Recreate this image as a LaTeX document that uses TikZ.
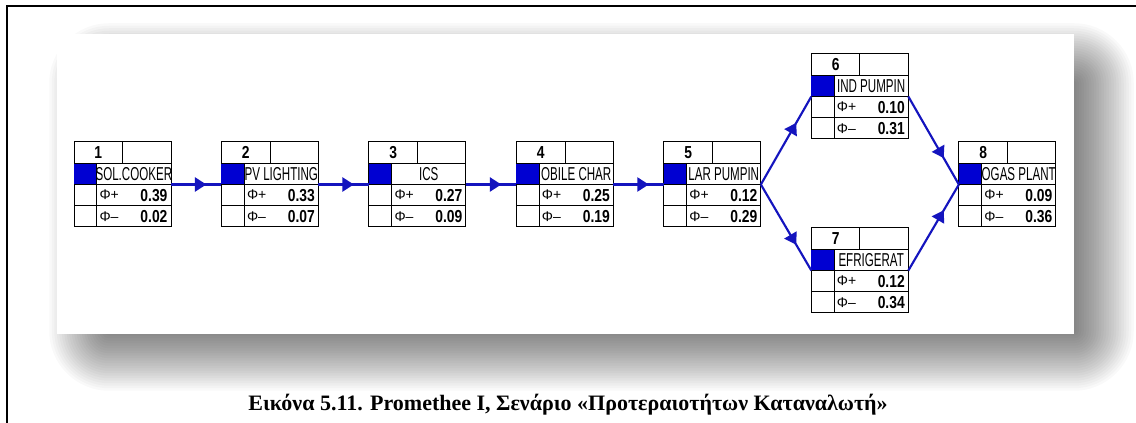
\documentclass[tikz,border=0pt]{standalone}
\usepackage{fontspec}
\usetikzlibrary{arrows.meta,decorations.markings}
\newfontfamily\capfont{Liberation Serif}
\newfontfamily\labfont[FakeStretch=0.62]{Liberation Sans}
\newfontfamily\valfont[FakeStretch=0.8]{Liberation Sans}
\newfontfamily\phifont{Liberation Sans}
\definecolor{cellblue}{RGB}{0,0,210}
\definecolor{flowblue}{RGB}{20,20,190}
\tikzset{
  altbox/.style={rectangle, draw, fill=white, line width=0.75pt, inner sep=0pt,
    outer sep=0pt, minimum width=72.75pt, minimum height=63.75pt},
  grid/.style={line width=0.75pt},
  numtext/.style={inner sep=0pt, font=\valfont\bfseries\fontsize{13}{15}\selectfont},
  labtext/.style={inner sep=0pt, font=\labfont\fontsize{14}{16}\selectfont},
  phitext/.style={inner sep=0pt, anchor=west, font=\phifont\fontsize{10.5}{12}\selectfont},
  valtext/.style={inner sep=0pt, anchor=east, font=\valfont\bfseries\fontsize{13}{15}\selectfont},
  captext/.style={inner sep=0pt, font=\capfont\bfseries\fontsize{16.5}{19}\selectfont},
  flow/.style={draw=flowblue, line width=1.6pt,
    decoration={markings, mark=at position 0.7 with {\arrow{Triangle[length=8.5pt,width=10.5pt]}}},
    postaction={decorate}}
}
% cells of one alternative: node, number, name, phi+, phi-
\newcommand{\altcells}[5]{%
  \begin{scope}[shift={(#1.north west)}]
    \fill[cellblue] (0,-21.25) rectangle (22.7,-42.5);
    \draw[grid] (0,-21.25) -- (97,-21.25) (0,-42.5) -- (97,-42.5) (0,-63.75) -- (97,-63.75)
      (48.6,0) -- (48.6,-21.25) (22.7,-21.25) -- (22.7,-85);
    \node[numtext] (#1-no) at (24.3,-10.6) {#2};
    \begin{scope}
      \clip (22.7,-21.25) rectangle (97,-42.5);
      \node[labtext] (#1-name) at (59.85,-31.9) {#3};
    \end{scope}
    \node[phitext] (#1-pp) at (25.3,-53.1) {Φ+};
    \node[valtext] (#1-vp) at (93.7,-53.1) {#4};
    \node[phitext] (#1-pm) at (25.3,-74.4) {Φ–};
    \node[valtext] (#1-vm) at (93.7,-74.4) {#5};
  \end{scope}}

\begin{document}
\begin{tikzpicture}[x=0.75pt, y=0.75pt, node distance=110.6pt]
  \useasboundingbox (0,0) rectangle (1136,-423);
  \clip (0,0) rectangle (1136,-423);
  \fill[white] (0,0) rectangle (1136,-423);
  \draw[line width=1.5pt] (7,-6) rectangle (1160,-440);

  % soft shadow under the panel
  \foreach \i in {0,...,23}{
    \pgfmathsetmacro\ins{-30+(\i+0.5)*2.5}
    \pgfmathsetmacro\rad{(31-\ins)*0.75}
    \fill[black, opacity=0.024, rounded corners=\rad pt]
      (78+\ins,-52-\ins) rectangle (1105-\ins,-362+\ins);
  }
  \fill[white] (57,-33.7) rectangle (1074,-334.5);

  \node[altbox] (n1) at (122.5,-184.5) {};
  \node[altbox, right of=n1] (n2) {};
  \node[altbox, right of=n2] (n3) {};
  \node[altbox, right of=n3] (n4) {};
  \node[altbox, right of=n4] (n5) {};
  \node[altbox, right of=n5, yshift=66pt] (n6) {};
  \node[altbox, right of=n5, yshift=-64.5pt] (n7) {};
  \node[altbox, right of=n5, node distance=221.25pt] (n8) {};

  \altcells{n1}{1}{SOL.COOKER}{0.39}{0.02}
  \altcells{n2}{2}{PV LIGHTING}{0.33}{0.07}
  \altcells{n3}{3}{ICS}{0.27}{0.09}
  \altcells{n4}{4}{OBILE CHAR}{0.25}{0.19}
  \altcells{n5}{5}{LAR PUMPIN}{0.12}{0.29}
  \altcells{n6}{6}{IND PUMPIN}{0.10}{0.31}
  \altcells{n7}{7}{EFRIGERAT}{0.12}{0.34}
  \altcells{n8}{8}{OGAS PLANT}{0.09}{0.36}

  \path[flow] (n1.east) -- (n2.west);
  \path[flow] (n2.east) -- (n3.west);
  \path[flow] (n3.east) -- (n4.west);
  \path[flow] (n4.east) -- (n5.west);
  \path[flow] (n5.east) -- (n6.west);
  \path[flow] (n5.east) -- (n7.west);
  \path[flow] (n6.east) -- (n8.west);
  \path[flow] (n7.east) -- (n8.west);

  \node[captext] (cap) at (568,-405) {Εικόνα 5.11. Promethee I, Σενάριο «Προτεραιοτήτων Καταναλωτή»};
\end{tikzpicture}
\end{document}
